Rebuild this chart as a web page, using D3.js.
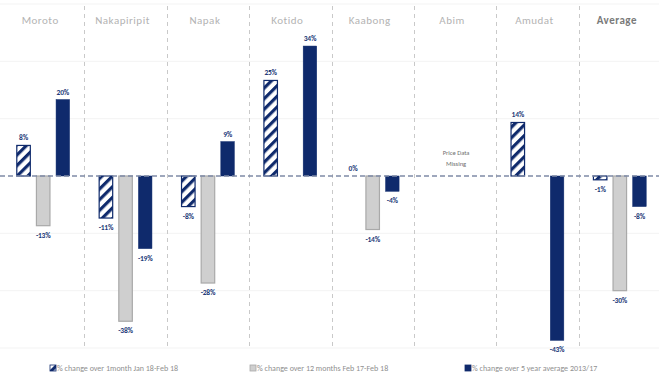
<!DOCTYPE html>
<html>
<head>
<meta charset="utf-8">
<script src="https://cdn.jsdelivr.net/npm/d3@7"></script>
<style>
  html, body { margin: 0; padding: 0; background: #fff; }
  svg { display: block; font-family: Calibri, Carlito, "Liberation Sans", Arial, sans-serif; }
</style>
</head>
<body>
<svg id="chart" width="659" height="382"></svg>
<script>
// Districts (last one is the regional average)
const districts = ["Moroto", "Nakapiripit", "Napak", "Kotido", "Kaabong", "Abim", "Amudat", "Average"];

// Percentage change per district; null = no bar drawn
const change1Month  = [8, -11, -8, 25, 0, null, 14, -1];        // Jan 18 - Feb 18
const change12Month = [-13, -38, -28, null, -14, null, null, -30]; // Feb 17 - Feb 18
const change5YrAvg  = [20, -19, 9, 34, -4, null, -43, -8];       // vs 5 year average 2013/17

const seriesNames = [
  "% change over 1month Jan 18-Feb 18",
  "% change over 12 months  Feb 17-Feb 18",
  "% change over 5 year average 2013/17"
];
const gridTicks = [-45, -30, -15, 15, 30, 45];
const missingNote = ["Price Data", "Missing"];
const missingDistrict = "Abim";

const navy = "#0f2a6c";
const svg = d3.select("#chart");

// Hatch pattern for the one-month series
const defs = svg.append("defs");
const pat = defs.append("pattern")
  .attr("id", "hatch")
  .attr("patternUnits", "userSpaceOnUse")
  .attr("width", 7.5).attr("height", 7.5)
  .attr("patternTransform", "rotate(45)");
pat.append("rect").attr("width", 7.5).attr("height", 7.5).attr("fill", "#fff");
pat.append("rect").attr("x", 0).attr("width", 3.2).attr("height", 7.5).attr("fill", navy);

const x = d3.scaleBand().domain(districts).range([2, 661]).paddingInner(0).paddingOuter(0);
const y = d3.scaleLinear().domain([-45, 45]).range([348, 4]);
const xs = d3.scaleBand().domain([0, 1, 2]).range([-27, 27]).paddingInner(0.25);

// faint horizontal gridlines
svg.append("g").selectAll("line").data(gridTicks).join("line")
  .attr("x1", 0).attr("x2", 659)
  .attr("y1", d => y(d)).attr("y2", d => y(d))
  .attr("stroke", "#f3f3f3").attr("stroke-width", 1);

// dashed panel dividers
svg.append("g").selectAll("line").data(districts.slice(1)).join("line")
  .attr("x1", d => Math.round(x(d)) + 0.5).attr("x2", d => Math.round(x(d)) + 0.5)
  .attr("y1", 6).attr("y2", 350)
  .attr("stroke", "#c9c9c9").attr("stroke-width", 1)
  .attr("stroke-dasharray", "4,4");

// district titles
svg.append("g").selectAll("text").data(districts).join("text")
  .attr("x", d => x(d) + x.bandwidth() / 2 - 3)
  .attr("y", 24)
  .attr("text-anchor", "middle")
  .attr("font-size", 11)
  .attr("fill", d => d === "Average" ? "#7a7a7a" : "#b3b3b3")
  .attr("font-weight", d => d === "Average" ? "bold" : "normal")
  .attr("letter-spacing", 0.5)
  .text(d => d);

// bars
const series = [change1Month, change12Month, change5YrAvg];
const styles = [
  { fill: "url(#hatch)", stroke: navy, sw: 1.2 },
  { fill: "#cfcfcf", stroke: "#a9a9a9", sw: 1.2 },
  { fill: navy, stroke: navy, sw: 0.5 }
];
const bars = [];
series.forEach((vals, s) => {
  vals.forEach((v, i) => {
    if (v !== null) bars.push({ district: districts[i], s, v });
  });
});

const cx = d => x(d.district) + x.bandwidth() / 2 + xs(d.s);

svg.append("g").selectAll("rect").data(bars.filter(d => d.v !== 0)).join("rect")
  .attr("x", d => cx(d) + 0.6)
  .attr("width", xs.bandwidth() - 1.2)
  .attr("y", d => Math.min(y(d.v), y(0)))
  .attr("height", d => Math.abs(y(d.v) - y(0)))
  .attr("fill", d => styles[d.s].fill)
  .attr("stroke", d => styles[d.s].stroke)
  .attr("stroke-width", d => styles[d.s].sw);

// value labels
svg.append("g").selectAll("text").data(bars).join("text")
  .attr("x", d => cx(d) + xs.bandwidth() / 2)
  .attr("y", d => d.v >= 0 ? y(d.v) - 5 : y(d.v) + 12)
  .attr("text-anchor", "middle")
  .attr("font-size", 7.5)
  .attr("font-weight", "bold")
  .attr("fill", "#233a78")
  .attr("letter-spacing", -0.2)
  .text(d => d.v + "%");

// zero line
svg.append("line")
  .attr("x1", 0).attr("x2", 659)
  .attr("y1", y(0)).attr("y2", y(0))
  .attr("stroke", "#7f8aa6").attr("stroke-width", 1.3)
  .attr("stroke-dasharray", "5,3");

// missing-data note
svg.append("g").selectAll("text").data(missingNote).join("text")
  .attr("x", x(missingDistrict) + x.bandwidth() / 2 + 1)
  .attr("y", (d, i) => 155 + i * 11)
  .attr("text-anchor", "middle")
  .attr("font-size", 6.5)
  .attr("fill", "#6f6f6f")
  .text(d => d);

// legend
const legendX = [50, 250, 465];
const leg = svg.append("g").selectAll("g").data(seriesNames).join("g")
  .attr("transform", (d, i) => `translate(${legendX[i]},370)`);
leg.append("rect")
  .attr("x", 0).attr("y", -5).attr("width", 6).attr("height", 6)
  .attr("fill", (d, i) => styles[i].fill)
  .attr("stroke", (d, i) => styles[i].stroke)
  .attr("stroke-width", 0.8);
leg.append("text")
  .attr("x", 7).attr("y", 1)
  .attr("font-size", 8)
  .attr("fill", "#8f8f8f")
  .text(d => d);
</script>
</body>
</html>
